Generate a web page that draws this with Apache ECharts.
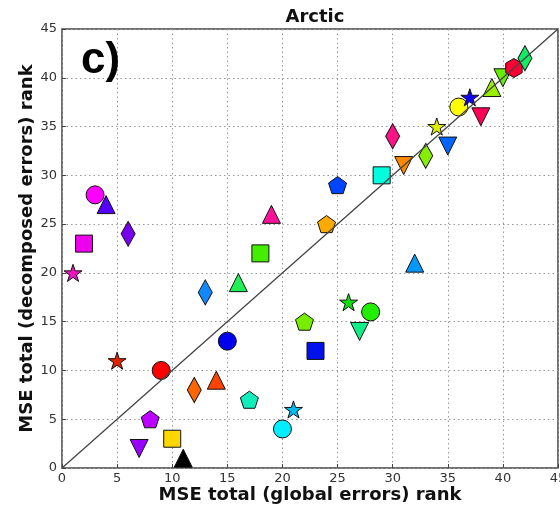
<!DOCTYPE html>
<html>
<head>
<meta charset="utf-8">
<script src="https://cdn.jsdelivr.net/npm/echarts@6/dist/echarts.min.js"></script>
<style>
html,body{margin:0;padding:0;background:#fff;}
#chart{width:560px;height:512px;}
</style>
</head>
<body>
<div id="chart"></div>
<script>
// Data: rank by global errors (x) and by decomposed errors (y)
var globalRank =     [1, 2, 3, 4, 5, 6, 7, 8, 9, 10, 11, 12, 13, 14, 15, 16, 17, 18, 19, 20, 21, 22, 23, 24, 25, 26, 27, 28, 29, 30, 31, 32, 33, 34, 35, 36, 37, 38, 39, 40, 41, 42];
var decomposedRank = [20, 23, 28, 27, 11, 24, 2, 5, 10, 3, 1, 8, 18, 9, 13, 19, 7, 22, 26, 4, 6, 15, 12, 25, 29, 17, 14, 16, 30, 34, 31, 21, 32, 35, 33, 37, 38, 36, 39, 40, 41, 42];
var markerShapes = ['star','square','circle','triUp','star','diamond','triDown','pentagon','circle','square','triUp','diamond','diamond','triUp','circle','triUp','pentagon','square','triUp','circle','star','pentagon','square','pentagon','pentagon','star','triDown','circle','square','diamond','triDown','triUp','diamond','star','triDown','circle','star','triDown','triUp','triDown','hexagon','diamond'];
var markerColors = ['#f014c0','#ee00ee','#ff00ff','#5500ff','#dd2200','#7700ee','#9900ff','#bb00ff','#ff0000','#ffd700','#000000','#ff6600','#1188ff','#ff4400','#0000ee','#22ee55','#11eebb','#44ee00','#ff1199','#00eeff','#00bbee','#77ee00','#0011ee','#ffaa00','#0044ff','#11dd11','#11ee88','#22ee00','#00ffdd','#ff1188','#ff8800','#0099ff','#88ee00','#ddee00','#0066ff','#ffff00','#1100ee','#ff0055','#99ee00','#66ee00','#ff0033','#11ee66'];
var axisTicks = [0, 5, 10, 15, 20, 25, 30, 35, 40, 45];
var diagonal = [[0, 0], [45, 45]];

var STAR = 'path://M0,-1L0.2245,-0.309L0.951,-0.309L0.363,0.118L0.588,0.809L0,0.382L-0.588,0.809L-0.363,0.118L-0.951,-0.309L-0.2245,-0.309Z';
var PENT = 'path://M0,-1L0.951,-0.309L0.588,0.809L-0.588,0.809L-0.951,-0.309Z';
var HEX = 'path://M0,-1L0.866,-0.5L0.866,0.5L0,1L-0.866,0.5L-0.866,-0.5Z';
var shapeMap = {
  star: {symbol: STAR, size: 18, rot: 0},
  square: {symbol: 'rect', size: 17, rot: 0},
  circle: {symbol: 'circle', size: 18, rot: 0},
  triUp: {symbol: 'triangle', size: 18, rot: 0},
  triDown: {symbol: 'triangle', size: 18, rot: 180},
  diamond: {symbol: 'diamond', size: [14, 25], rot: 0},
  pentagon: {symbol: PENT, size: 18, rot: 0},
  hexagon: {symbol: HEX, size: 19, rot: 0}
};

var points = globalRank.map(function (x, i) {
  var s = shapeMap[markerShapes[i]];
  return {
    value: [x, decomposedRank[i]],
    symbol: s.symbol,
    symbolSize: s.size,
    symbolRotate: s.rot,
    symbolKeepAspect: true,
    itemStyle: {color: markerColors[i], borderColor: '#111', borderWidth: 1, opacity: 1}
  };
});

var chart = echarts.init(document.getElementById('chart'), null, {renderer: 'canvas'});
var FONT = 'DejaVu Sans';
chart.setOption({
  animation: false,
  backgroundColor: '#fff',
  title: {
    text: 'Arctic', left: 310, textAlign: 'center', top: 3,
    textStyle: {fontFamily: FONT, fontWeight: 'bold', fontSize: 18, color: '#111'}
  },
  grid: {left: 62, right: 2, top: 29, bottom: 44, show: true, borderColor: '#444', borderWidth: 1.5, backgroundColor: 'transparent', outerBoundsMode: 'none', containLabel: false},
  xAxis: {
    type: 'value', min: axisTicks[0], max: axisTicks[axisTicks.length - 1], interval: 5,
    name: 'MSE total (global errors) rank', nameLocation: 'middle', nameGap: 18, nameMoveOverlap: false,
    nameTextStyle: {fontFamily: FONT, fontWeight: 'bold', fontSize: 18, color: '#111', verticalAlign: 'top'},
    axisLine: {show: false},
    axisTick: {show: true, inside: true, length: 4, lineStyle: {color: '#444'}},
    axisLabel: {fontFamily: FONT, fontSize: 13, color: '#333', margin: 4, hideOverlap: false},
    splitLine: {show: true, lineStyle: {color: '#999', type: [1.5, 3], width: 1}}
  },
  yAxis: {
    type: 'value', min: axisTicks[0], max: axisTicks[axisTicks.length - 1], interval: 5,
    name: 'MSE total (decomposed errors) rank', nameLocation: 'middle', nameGap: 26, nameRotate: 90, nameMoveOverlap: false,
    nameTextStyle: {fontFamily: FONT, fontWeight: 'bold', fontSize: 18, color: '#111'},
    axisLine: {show: false},
    axisTick: {show: true, inside: true, length: 4, lineStyle: {color: '#444'}},
    axisLabel: {fontFamily: FONT, fontSize: 13, color: '#333', margin: 5},
    splitLine: {show: true, lineStyle: {color: '#999', type: [1.5, 3], width: 1}}
  },
  graphic: [{
    type: 'text', left: 81, top: 39, z: 100,
    style: {text: 'c)', fontFamily: 'Liberation Sans', fontWeight: 'bold', fontSize: 44, fill: '#000'}
  }],
  series: [{
    type: 'scatter', data: points, z: 2, clip: false
  }, {
    type: 'line', data: diagonal, z: 5, symbol: 'none', silent: true,
    lineStyle: {color: '#444', width: 1.3}
  }]
});
</script>
</body>
</html>
